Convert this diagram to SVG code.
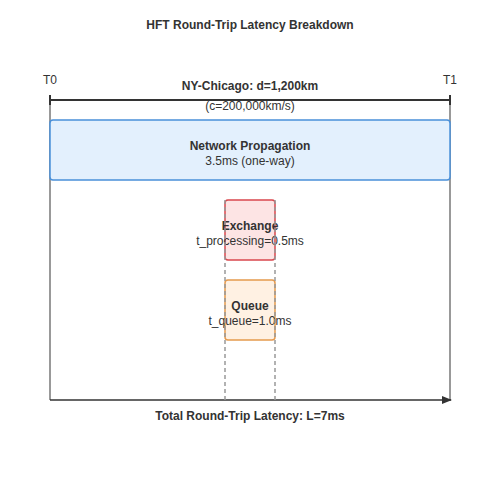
<svg xmlns="http://www.w3.org/2000/svg" width="500" height="500" viewBox="0 0 500 500">
<defs>
<style>
text{font-family:"Liberation Sans",Arial,sans-serif;fill:#333;text-anchor:middle}
.b{font-weight:bold;font-size:12px}
.n{font-size:12px}
.guide{stroke:#999;stroke-width:2;fill:none}
.dash{stroke:#999;stroke-width:1.5;stroke-dasharray:4,3;fill:none}
</style>
<marker id="ah" markerWidth="10" markerHeight="8" refX="9" refY="4" orient="auto" markerUnits="userSpaceOnUse">
<path d="M0,0 L10,4 L0,8 z" fill="#333"/>
</marker>
</defs>
<rect width="500" height="500" fill="#fff"/>
<text class="b" x="250" y="29">HFT Round-Trip Latency Breakdown</text>
<g id="connectors">
<line class="guide" x1="50" y1="100" x2="50" y2="400"/>
<line class="guide" x1="450" y1="100" x2="450" y2="400"/>
<line x1="50" y1="100" x2="450" y2="100" stroke="#333" stroke-width="2"/>
<line x1="50" y1="95" x2="50" y2="105" stroke="#333" stroke-width="2"/>
<line x1="450" y1="95" x2="450" y2="105" stroke="#333" stroke-width="2"/>
<line x1="50" y1="400" x2="451" y2="400" stroke="#333" stroke-width="1.5" marker-end="url(#ah)"/>
</g>
<text class="n" x="50" y="84">T0</text>
<text class="n" x="450" y="84">T1</text>
<text class="b" x="250" y="90">NY-Chicago: d=1,200km</text>
<text class="n" x="250" y="110">(c=200,000km/s)</text>
<g id="network">
<rect x="50" y="120" width="400" height="60" rx="3" fill="#e3f0fd" stroke="#4a90d9" stroke-width="1.5"/>
<text class="b" x="250" y="150">Network Propagation</text>
<text class="n" x="250" y="165">3.5ms (one-way)</text>
</g>
<g id="exchange">
<rect x="225" y="200" width="50" height="60" rx="3" fill="#fde4e4" stroke="#d9474d" stroke-width="1.5"/>
<text class="b" x="250" y="230">Exchange</text>
<text class="n" x="250" y="245">t_processing=0.5ms</text>
</g>
<g id="queue">
<rect x="225" y="280" width="50" height="60" rx="3" fill="#fff1e3" stroke="#e59a4e" stroke-width="1.5"/>
<text class="b" x="250" y="310">Queue</text>
<text class="n" x="250" y="325">t_queue=1.0ms</text>
</g>
<g id="guides">
<line class="dash" x1="225" y1="200" x2="225" y2="400"/>
<line class="dash" x1="275" y1="200" x2="275" y2="400"/>
</g>
<text class="b" x="250" y="420">Total Round-Trip Latency: L=7ms</text>
</svg>
